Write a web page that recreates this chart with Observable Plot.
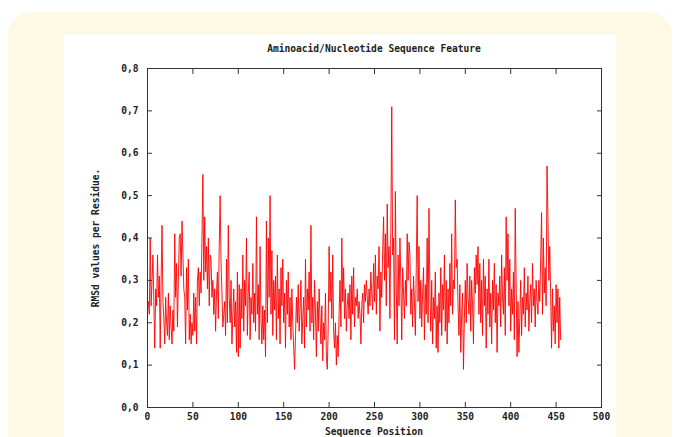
<!DOCTYPE html>
<html>
<head>
<meta charset="utf-8">
<script src="https://cdn.jsdelivr.net/npm/d3@7"></script>
<script src="https://cdn.jsdelivr.net/npm/@observablehq/plot@0.6"></script>
<style>
  html, body { margin: 0; padding: 0; background: #ffffff; width: 677px; height: 437px; overflow: hidden; }
  #panel { position: absolute; left: 8px; top: 12px; width: 664px; height: 460px; background: #fef9e4; border-radius: 24px; }
  #inner { position: absolute; left: 64px; top: 34px; width: 552px; height: 420px; background: #ffffff; }
  #chart { position: absolute; left: 0; top: 0; }
  .lbl { position: absolute; font-family: "DejaVu Sans Mono", monospace; font-weight: bold; font-size: 9.6px; color: #222; white-space: nowrap; }
  #title { left: 374px; top: 43px; transform: translateX(-50%); }
  #xlabel { left: 374px; top: 426px; transform: translateX(-50%); }
  #ylabel { left: 95px; top: 238px; transform: translate(-50%, -50%) rotate(-90deg); }
</style>
</head>
<body>
<div id="panel"></div>
<div id="inner"></div>
<div id="chart"></div>
<div class="lbl" id="title">Aminoacid/Nucleotide Sequence Feature</div>
<div class="lbl" id="xlabel">Sequence Position</div>
<div class="lbl" id="ylabel">RMSd values per Residue.</div>
<script>
const titleText = "Aminoacid/Nucleotide Sequence Feature";
const xLabel = "Sequence Position";
const yLabel = "RMSd values per Residue.";
const xTicks = [0, 50, 100, 150, 200, 250, 300, 350, 400, 450, 500];
const yTicks = [0, 0.1, 0.2, 0.3, 0.4, 0.5, 0.6, 0.7, 0.8];

// RMSd per residue (residue 1 .. 455)
const rmsd = [
  0.25, 0.22, 0.40, 0.24, 0.30, 0.36, 0.25, 0.14, 0.28, 0.24,
  0.36, 0.26, 0.31, 0.14, 0.30, 0.43, 0.25, 0.21, 0.15, 0.26,
  0.20, 0.17, 0.27, 0.16, 0.24, 0.19, 0.15, 0.23, 0.18, 0.41,
  0.26, 0.34, 0.19, 0.30, 0.40, 0.41, 0.31, 0.44, 0.36, 0.28,
  0.26, 0.15, 0.33, 0.23, 0.35, 0.16, 0.22, 0.15, 0.20, 0.17,
  0.27, 0.18, 0.26, 0.15, 0.30, 0.33, 0.24, 0.32, 0.27, 0.40,
  0.55, 0.30, 0.45, 0.32, 0.38, 0.28, 0.40, 0.24, 0.36, 0.35,
  0.26, 0.30, 0.22, 0.28, 0.18, 0.27, 0.32, 0.21, 0.38, 0.50,
  0.34, 0.27, 0.19, 0.22, 0.25, 0.17, 0.35, 0.20, 0.43, 0.26,
  0.20, 0.30, 0.15, 0.22, 0.28, 0.19, 0.25, 0.13, 0.32, 0.12,
  0.29, 0.14, 0.28, 0.21, 0.36, 0.18, 0.30, 0.24, 0.40, 0.17,
  0.27, 0.32, 0.16, 0.26, 0.22, 0.34, 0.20, 0.27, 0.18, 0.45,
  0.22, 0.29, 0.16, 0.38, 0.21, 0.15, 0.24, 0.16, 0.23, 0.12,
  0.44, 0.20, 0.40, 0.26, 0.50, 0.22, 0.37, 0.17, 0.30, 0.23,
  0.31, 0.16, 0.36, 0.21, 0.28, 0.15, 0.33, 0.24, 0.35, 0.20,
  0.27, 0.14, 0.30, 0.22, 0.32, 0.19, 0.26, 0.16, 0.28, 0.20,
  0.14, 0.09, 0.17, 0.26, 0.20, 0.29, 0.18, 0.23, 0.30, 0.15,
  0.21, 0.26, 0.14, 0.35, 0.19, 0.28, 0.23, 0.32, 0.18, 0.43,
  0.20, 0.26, 0.16, 0.30, 0.22, 0.12, 0.25, 0.18, 0.28, 0.21,
  0.15, 0.24, 0.11, 0.20, 0.16, 0.27, 0.12, 0.09, 0.19, 0.38,
  0.25, 0.32, 0.21, 0.36, 0.18, 0.14, 0.20, 0.10, 0.17, 0.12,
  0.22, 0.30, 0.19, 0.40, 0.25, 0.33, 0.21, 0.28, 0.18, 0.24,
  0.27, 0.21, 0.29, 0.16, 0.31, 0.22, 0.33, 0.19, 0.26, 0.24,
  0.28, 0.21, 0.25, 0.22, 0.15, 0.24, 0.27, 0.20, 0.29, 0.25,
  0.30, 0.26, 0.22, 0.28, 0.24, 0.32, 0.27, 0.23, 0.34, 0.25,
  0.36, 0.22, 0.31, 0.28, 0.38, 0.18, 0.32, 0.26, 0.37, 0.45,
  0.30, 0.41, 0.24, 0.48, 0.33, 0.38, 0.21, 0.42, 0.71, 0.36,
  0.40, 0.16, 0.51, 0.28, 0.15, 0.36, 0.24, 0.40, 0.30, 0.16,
  0.33, 0.27, 0.21, 0.30, 0.24, 0.41, 0.30, 0.39, 0.36, 0.22,
  0.28, 0.19, 0.31, 0.25, 0.17, 0.33, 0.50, 0.25, 0.38, 0.21,
  0.30, 0.19, 0.27, 0.33, 0.16, 0.29, 0.22, 0.40, 0.20, 0.47,
  0.27, 0.18, 0.30, 0.15, 0.26, 0.21, 0.32, 0.14, 0.24, 0.13,
  0.27, 0.20, 0.33, 0.17, 0.29, 0.23, 0.36, 0.18, 0.30, 0.15,
  0.28, 0.20, 0.34, 0.24, 0.41, 0.22, 0.30, 0.28, 0.49, 0.33,
  0.35, 0.24, 0.17, 0.29, 0.13, 0.22, 0.27, 0.09, 0.21, 0.30,
  0.20, 0.34, 0.26, 0.22, 0.31, 0.18, 0.30, 0.24, 0.15, 0.33,
  0.27, 0.36, 0.29, 0.38, 0.22, 0.34, 0.20, 0.30, 0.17, 0.35,
  0.24, 0.31, 0.14, 0.28, 0.22, 0.35, 0.19, 0.27, 0.15, 0.30,
  0.23, 0.34, 0.20, 0.29, 0.13, 0.27, 0.24, 0.31, 0.19, 0.36,
  0.26, 0.22, 0.33, 0.17, 0.45, 0.30, 0.41, 0.24, 0.35, 0.18,
  0.28, 0.22, 0.32, 0.16, 0.47, 0.29, 0.12, 0.25, 0.13, 0.21,
  0.30, 0.17, 0.26, 0.22, 0.33, 0.19, 0.27, 0.23, 0.31, 0.18,
  0.25, 0.29, 0.20, 0.34, 0.24, 0.28, 0.19, 0.30, 0.25, 0.22,
  0.30, 0.25, 0.35, 0.46, 0.22, 0.40, 0.27, 0.33, 0.24, 0.57,
  0.45, 0.30, 0.38, 0.27, 0.14, 0.28, 0.18, 0.24, 0.15, 0.29,
  0.20, 0.28, 0.14, 0.26, 0.16
];

const data = rmsd.map((v, i) => ({pos: i + 1, rmsd: v}));
const fmtY = d => d.toFixed(1).replace(".", ",");
const ink = "#222";
const font = {fontFamily: "DejaVu Sans Mono", fontWeight: "bold", fontSize: "9.6px"};

const chart = Plot.plot({
  width: 677,
  height: 437,
  marginLeft: 147,
  marginRight: 76,
  marginTop: 68,
  marginBottom: 30,
  style: {background: "transparent", color: ink, ...font},
  x: {domain: [0, 500]},
  y: {domain: [0, 0.8]},
  marks: [
    Plot.lineY(data, {x: "pos", y: "rmsd", stroke: "#ff0000", strokeWidth: 0.9}),
    Plot.frame({stroke: "#333"}),
    Plot.axisX({anchor: "bottom", ticks: xTicks, tickSize: -5, fill: "none", stroke: "#333", label: null}),
    Plot.axisX({anchor: "top", ticks: xTicks, tickSize: -5, fill: "none", stroke: "#333", label: null}),
    Plot.axisY({anchor: "left", ticks: yTicks, tickSize: -5, fill: "none", stroke: "#333", label: null}),
    Plot.axisY({anchor: "right", ticks: yTicks, tickSize: -5, fill: "none", stroke: "#333", label: null}),
    Plot.axisX({anchor: "bottom", ticks: xTicks, tickSize: 0, tickPadding: 6, tickFormat: d => String(d), label: null, fill: ink}),
    Plot.axisY({anchor: "left", ticks: yTicks, tickSize: 0, tickPadding: 9, tickFormat: fmtY, label: null, fill: ink})
  ]
});
document.getElementById("chart").appendChild(chart);
</script>
</body>
</html>
